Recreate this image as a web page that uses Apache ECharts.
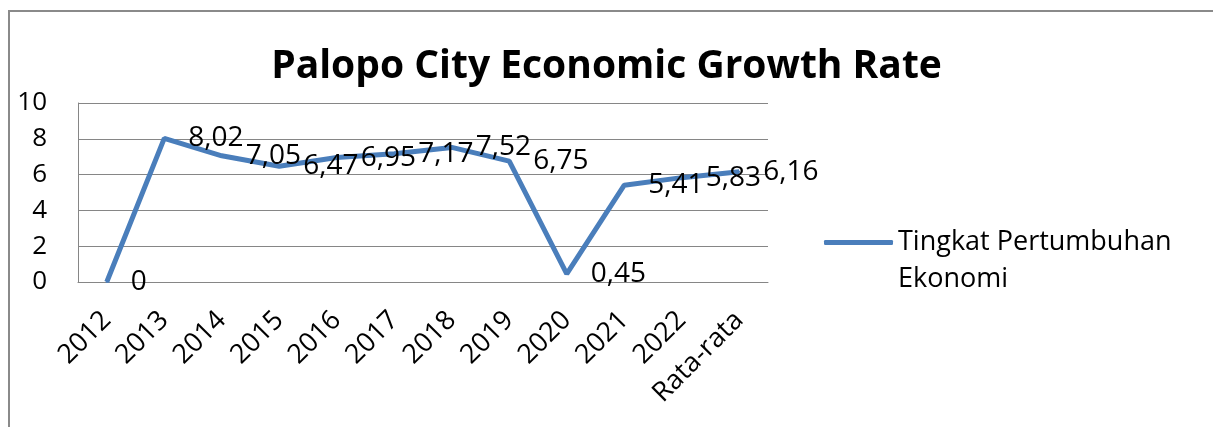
<!DOCTYPE html>
<html><head><meta charset="utf-8">
<script src="https://cdn.jsdelivr.net/npm/echarts@6/dist/echarts.min.js"></script>
<style>
html,body{margin:0;padding:0;background:#fff;overflow:hidden;}
#frame{position:absolute;left:8px;top:10px;width:1300px;height:500px;border:2px solid #8a8a8a;}
#chart{position:absolute;left:0;top:0;width:1213px;height:427px;}
</style></head>
<body>
<div id="frame"></div>
<div id="chart"></div>
<script>
const categories = ['2012','2013','2014','2015','2016','2017','2018','2019','2020','2021','2022','Rata-rata'];
const growthValues = [0, 8.02, 7.05, 6.47, 6.95, 7.17, 7.52, 6.75, 0.45, 5.41, 5.83, 6.16];
const seriesName = 'Tingkat Pertumbuhan Ekonomi';
const legendLines = ['', 'Tingkat Pertumbuhan', 'Ekonomi'];
const titleText = 'Palopo City Economic Growth Rate';
const yMin = 0, yMax = 10, yInterval = 2;

const FONT = '"Open Sans", "Noto Sans", sans-serif';
const chart = echarts.init(document.getElementById('chart'), null, {renderer:'canvas'});
chart.setOption({
  backgroundColor: 'transparent',
  animation: false,
  title: {
    text: titleText, left: 'center', top: 42,
    textStyle: {fontFamily: FONT, fontWeight: 'bold', fontSize: 39, color: '#000'}
  },
  legend: {
    orient: 'vertical', left: 819, top: 182,
    itemWidth: 69, itemHeight: 5, itemGap: 4,
    formatter: () => legendLines.join('\n'),
    textStyle: {fontFamily: FONT, fontSize: 27, color: '#000', lineHeight: 37},
    data: [{name: seriesName, icon: 'roundRect'}]
  },
  grid: {left: 78, right: 445, top: 103, bottom: 145, containLabel: false},
  xAxis: {
    type: 'category', data: categories, boundaryGap: true,
    axisLine: {show: true, lineStyle: {color: '#868686', width: 1}},
    axisTick: {show: false},
    axisLabel: {rotate: 45, fontFamily: FONT, fontSize: 27, color: '#000', margin: 34, interval: 0}
  },
  yAxis: {
    type: 'value', min: yMin, max: yMax, interval: yInterval,
    axisLine: {show: true, lineStyle: {color: '#868686', width: 1}},
    axisTick: {show: false},
    splitLine: {show: true, lineStyle: {color: '#868686', width: 1}},
    axisLabel: {fontFamily: FONT, fontSize: 26, color: '#000', margin: 31}
  },
  series: [{
    name: seriesName, type: 'line', data: growthValues,
    symbol: 'circle', symbolSize: 2, showSymbol: true,
    smooth: false,
    lineStyle: {color: '#4A7EBB', width: 5},
    itemStyle: {color: '#4A7EBB'},
    label: {
      show: true, position: 'right', distance: 23, offset: [0, 4],
      fontFamily: FONT, fontSize: 28, color: '#000',
      formatter: p => String(p.value).replace('.', ',')
    },
    labelLayout: {hideOverlap: false}
  }]
});
</script>
</body></html>
